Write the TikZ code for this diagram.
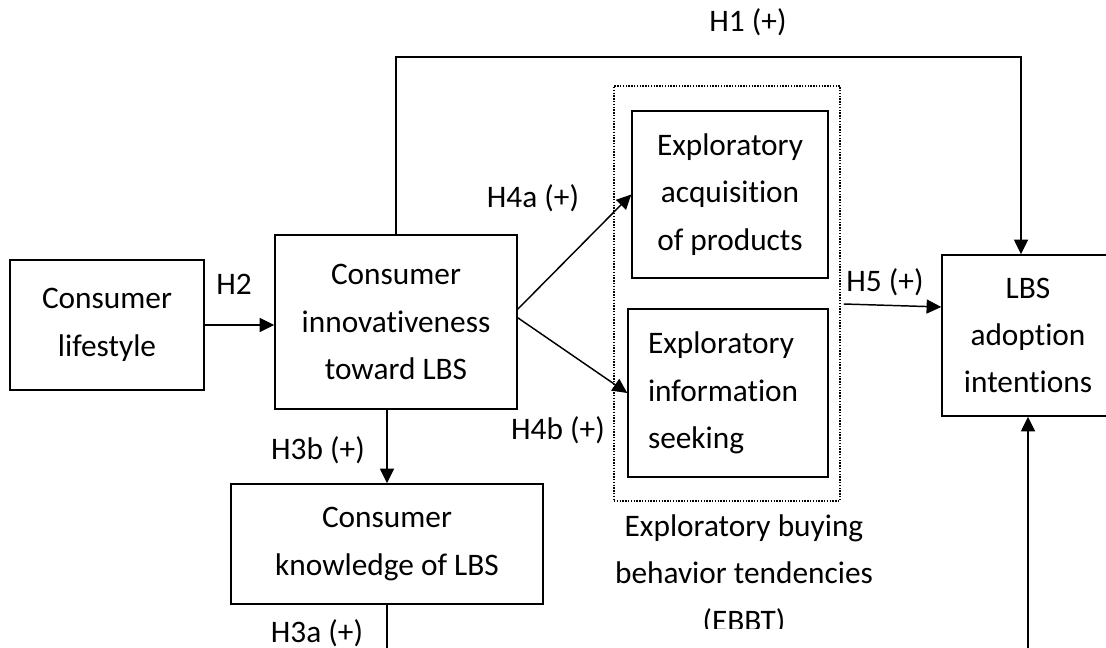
\documentclass[tikz,border=0pt]{standalone}
\usepackage{fontspec}
\setmainfont{Carlito}[Ligatures=NoCommon]
\usetikzlibrary{arrows.meta}

\begin{document}
\begin{tikzpicture}[x=0.75pt,y=0.75pt,>={Triangle[length=11pt,width=10.5pt]},
  box/.style={draw,line width=1.1pt,align=center,inner sep=0pt,font=\fontsize{23.5}{35.5}\selectfont},
  lab/.style={font=\fontsize{23.5}{28}\selectfont,inner sep=0pt},
  link/.style={->,line width=1.1pt}]
\useasboundingbox (0,0) rectangle (1106,-648);
% constructs
\node[box,minimum width=145.5pt,minimum height=97.5pt] (life) at (107,-325) {Consumer\\lifestyle};
\node[box,minimum width=181.5pt,minimum height=130.5pt] (innov) at (396,-322) {Consumer\\innovativeness\\toward LBS};
\node[box,minimum width=234pt,minimum height=90pt] (know) at (387,-544) {Consumer\\knowledge of LBS};
\node[box,minimum width=147pt,minimum height=125.25pt] (eap) at (730,-194.5) {Exploratory\\acquisition\\of products};
\node[box,minimum width=150pt,minimum height=126pt,text width=120pt,align=left] (eis) at (728,-393) {Exploratory\\information\\seeking};
\node[box,minimum width=129pt,minimum height=120.75pt] (lbs) at (1028,-335.5) {LBS\\adoption\\intentions};
% EBBT frame and its title
\node[draw,densely dotted,line width=1.1pt,minimum width=169.5pt,minimum height=311.25pt,inner sep=0pt] (ebbt) at (727,-293.5) {};
\begin{scope}
\clip (590,-500) rectangle (900,-628);
\node[box,draw=none] (ebbtlab) at (744,-575) {Exploratory buying\\behavior tendencies\\(EBBT)};
\end{scope}
\coordinate (top) at (0,-57);
\coordinate (bot) at (0,-648);
% paths
\draw[link] (innov.north) |- ([xshift=-5.25pt]lbs.north |- top) -- ([xshift=-5.25pt]lbs.north);
\draw[link] (life.east) -- (life.east -| innov.west);
\draw[link] (innov.south -| know.north) -- (know.north);
\draw[line width=1.1pt] (know.south) -- (know.south |- bot);
\draw[link] (innov.6) -- (eap.west);
\draw[link] (innov.2) -- (eis.west);
\draw[link] ([shift={(3,-10.5)}]ebbt.east) -- ([shift={(0,28.5)}]lbs.west);
\draw[link] (lbs.south |- bot) -- (lbs.south);
% path labels
\node[lab] (h1) at (748,-22) {H1 (+)};
\node[lab] (h2) at (234,-284) {H2};
\node[lab] (h3b) at (318,-450) {H3b (+)};
\node[lab] (h3a) at (317,-633) {H3a (+)};
\node[lab] (h4a) at (533,-198) {H4a (+)};
\node[lab] (h4b) at (558,-430) {H4b (+)};
\node[lab] (h5) at (885,-282) {H5 (+)};
\end{tikzpicture}
\end{document}
